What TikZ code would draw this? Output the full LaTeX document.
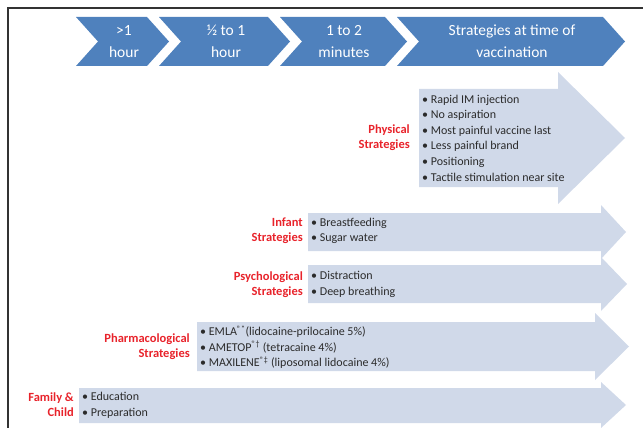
\documentclass[tikz,border=0pt]{standalone}
\usepackage{fontspec}
\setmainfont{Carlito}
\usepackage{xcolor}
\usepackage{tikz}
\definecolor{chevblue}{HTML}{4F81BD}
\definecolor{armpale}{HTML}{D0D9E9}
\definecolor{labred}{HTML}{E8232B}
\definecolor{txtgray}{HTML}{2B2B2B}

\begin{document}
\begin{tikzpicture}[x=1pt,y=-1pt,
		chev/.style={fill=chevblue},
		arm/.style={fill=armpale},
		chevtext/.style={text=white,align=center,font=\fontsize{15.5}{22}\selectfont},
		grouplab/.style={text=labred,align=right,anchor=east,inner sep=0pt,font=\fontsize{12.5}{15}\selectfont\bfseries},
		items/.style={text=txtgray,align=left,anchor=west,inner sep=0pt,font=\fontsize{12}{15.6}\selectfont}]
		\useasboundingbox (0,0) rectangle (643,428);
		\draw[black!80,line width=1.5pt] (643,8) -- (8,8) -- (8,428);
		%
		% time line
		\fill[chev] (76,17) -- (147,17) -- (169,41.5) -- (147,66) -- (76,66) -- (98,41.5) -- cycle;
		\fill[chev] (159,17) -- (268,17) -- (290,41.5) -- (268,66) -- (159,66) -- (181,41.5) -- cycle;
		\fill[chev] (280,17) -- (385,17) -- (407,41.5) -- (385,66) -- (280,66) -- (302,41.5) -- cycle;
		\fill[chev] (397,17) -- (603,17) -- (625,41.5) -- (603,66) -- (397,66) -- (419,41.5) -- cycle;
		\node[chevtext] (hr) at (124,41.5) {>1\\hour};
		\node[chevtext] (halfhr) at (226,41.5) {½ to 1\\hour};
		\node[chevtext] (mins) at (344,41.5) {1 to 2\\minutes};
		\node[chevtext] (now) at (512,41.5) {Strategies at time of\\vaccination};
		%
		% strategy arrows
		\fill[arm] (419,89) -- (558,89) -- (558,72) -- (625,138) -- (558,204) -- (558,187) -- (419,187) -- cycle;
		\fill[arm] (308,213) -- (601,213) -- (601,205) -- (626,232) -- (601,259) -- (601,251) -- (308,251) -- cycle;
		\fill[arm] (308,265) -- (601,265) -- (601,257) -- (627,284) -- (601,311) -- (601,303) -- (308,303) -- cycle;
		\fill[arm] (197,322) -- (595,322) -- (595,313) -- (629,346.5) -- (595,380) -- (595,371) -- (197,371) -- cycle;
		\fill[arm] (79,388) -- (601,388) -- (601,382) -- (626,405) -- (601,428) -- (601,423) -- (79,423) -- cycle;
		%
		\node[grouplab] (phys) at (410,138) {Physical\\Strategies};
		\node[items] (physlist) at (422,138) {• Rapid IM injection\\• No aspiration\\• Most painful vaccine last\\• Less painful brand\\• Positioning\\• Tactile stimulation near site};
		\node[grouplab] (inf) at (303,231) {Infant\\Strategies};
		\node[items] (inflist) at (311,231) {• Breastfeeding\\• Sugar water};
		\node[grouplab] (psy) at (303,284.5) {Psychological\\Strategies};
		\node[items] (psylist) at (311,284.5) {• Distraction\\• Deep breathing};
		\node[grouplab] (pharm) at (190,346.5) {Pharmacological\\Strategies};
		\node[items] (pharmlist) at (200,347) {• EMLA\textsuperscript{®*}(lidocaine-prilocaine 5\%)\\• AMETOP\textsuperscript{®†} (tetracaine 4\%)\\• MAXILENE\textsuperscript{®‡} (liposomal lidocaine 4\%)};
		\node[grouplab] (fam) at (74,405) {Family \&\\Child};
		\node[items] (famlist) at (82,405) {• Education\\• Preparation};
	\end{tikzpicture}
\end{document}
